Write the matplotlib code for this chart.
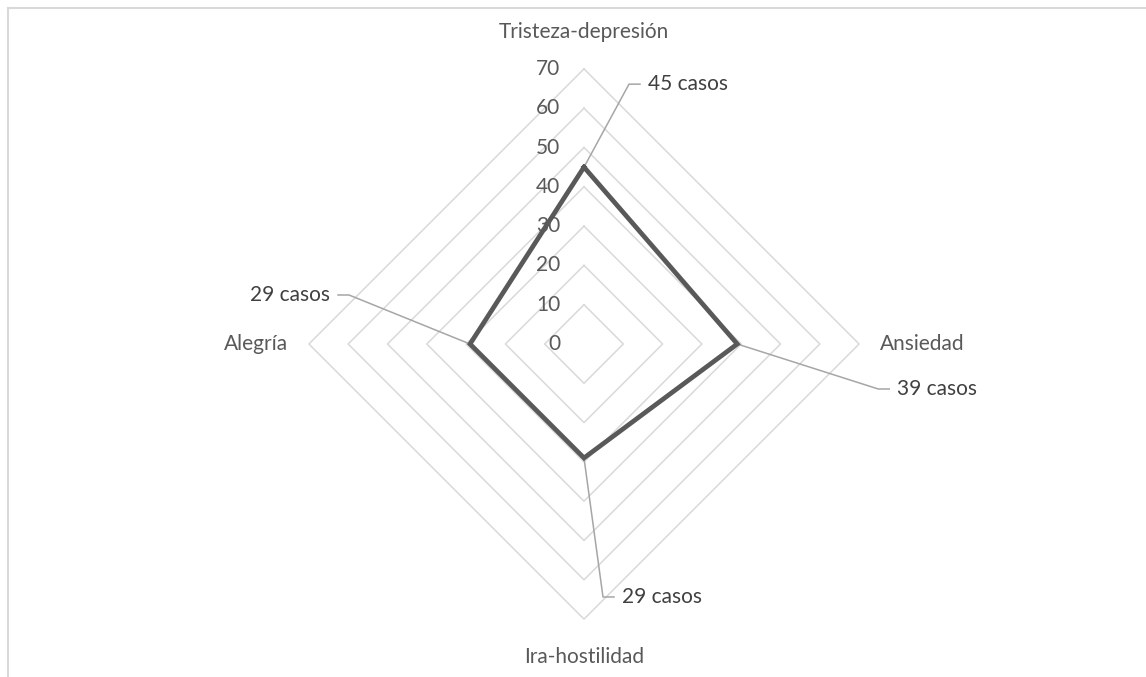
import numpy as np
import matplotlib
matplotlib.use("Agg")
import matplotlib.pyplot as plt
from matplotlib.lines import Line2D

# datos
categorias = ["Tristeza-depresión", "Ansiedad", "Ira-hostilidad", "Alegría"]
casos = [45, 39, 29, 29]
etiquetas = ["45 casos", "39 casos", "29 casos", "29 casos"]
niveles = [10, 20, 30, 40, 50, 60, 70]
ticks = [0, 10, 20, 30, 40, 50, 60, 70]

W, H = 1146, 677
CX, CY = 584, 344          # centro en pixeles (desde arriba)
PX = 3.93                  # pixeles por unidad
FS = 15

plt.rcParams['font.family'] = ['Lato', 'DejaVu Sans']
GRIS = "#595959"

fig = plt.figure(figsize=(W / 100, H / 100), dpi=100)
ax = fig.add_axes([0, 0, 1, 1])
ax.set_xlim(-CX / PX, (W - CX) / PX)
ax.set_ylim(-(H - CY) / PX, CY / PX)
ax.axis("off")

# angulos: arriba, derecha, abajo, izquierda
ang = np.pi / 2 - np.arange(len(categorias)) * 2 * np.pi / len(categorias)
ang_c = np.append(ang, ang[0])

def xy(r, a):
    return r * np.cos(a), r * np.sin(a)

# anillos
for n in niveles:
    x, y = xy(n, ang_c)
    ax.plot(x, y, color="#d9d9d9", lw=1.1, zorder=1)

# etiquetas del eje radial
for t in ticks:
    ax.text(-6.0, t, str(t), ha="right", va="center", fontsize=FS, color=GRIS, zorder=2)

# serie
vals = np.append(casos, casos[0])
x, y = xy(vals, ang_c)
ax.plot(x, y, color=GRIS, lw=3.4, solid_joinstyle="miter", zorder=4)

# categorias
r_cat = [79.4, 75.3, 79.6, 75.3]
ha_cat = ["center", "left", "center", "right"]
for c, a, r, h in zip(categorias, ang, r_cat, ha_cat):
    px, py = xy(r, a)
    ax.text(px, py, c, ha=h, va="center", fontsize=FS, color=GRIS)

# etiquetas de datos con lineas guia (desplazamientos en pixeles)
codos = [(45, 83), (141, -45), (19, -139), (-121, 49)]
for v, a, lab, (dx, dy) in zip(casos, ang, etiquetas, codos):
    vx, vy = xy(v, a)
    ex, ey = vx + dx / PX, vy + dy / PX
    s = 1 if dx > 0 else -1
    hx = ex + s * 11 / PX
    ax.plot([vx, ex, hx], [vy, ey, ey], color="#a6a6a6", lw=1.1, zorder=3)
    ax.text(hx + s * 8 / PX, ey, lab, ha="left" if s > 0 else "right",
            va="center", fontsize=FS, color="#404040")

# borde del area del grafico
fig.add_artist(Line2D([8 / W, 1], [1 - 8 / H, 1 - 8 / H], color="#d9d9d9", lw=1.5))
fig.add_artist(Line2D([8 / W, 8 / W], [0, 1 - 8 / H], color="#d9d9d9", lw=1.5))

fig.savefig("out.png", dpi=100, facecolor="white")
